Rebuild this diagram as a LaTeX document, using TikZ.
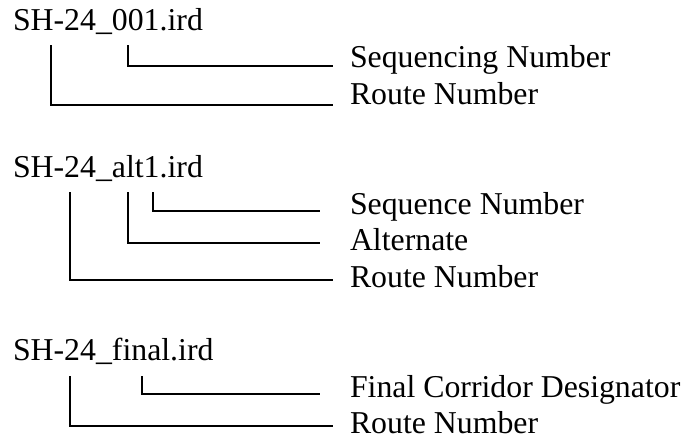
\documentclass[tikz,border=0pt]{standalone}
\usepackage{fontspec}
\setmainfont{Liberation Serif}
\begin{document}
\begin{tikzpicture}[x=0.75pt,y=-0.75pt,
  txt/.style={anchor=base west,inner sep=0pt,outer sep=0pt,font=\fontsize{23.85}{28}\selectfont},
  lead/.style={line width=1.3pt,line cap=butt,line join=miter}]
\useasboundingbox (0,0) rectangle (685,439);
% Block 1
\node[txt] (f1) at (13,31) {SH-24\_001.ird};
\node[txt] (f1s) at (350,67.6) {Sequencing Number};
\node[txt] (f1r) at (350,104.2) {Route Number};
\coordinate (f1a) at (51,45);
\coordinate (f1b) at (128,45);
\coordinate (f1se) at (333,66);
\coordinate (f1re) at (333,105);
\draw[lead] (f1b) |- (f1se);
\draw[lead] (f1a) |- (f1re);
% Block 2
\node[txt] (f2) at (13,177.6) {SH-24\_alt1.ird};
\node[txt] (f2s) at (350,214.2) {Sequence Number};
\node[txt] (f2a) at (350,250.8) {Alternate};
\node[txt] (f2r) at (350,287.4) {Route Number};
\coordinate (f2t1) at (70,192);
\coordinate (f2t2) at (128,192);
\coordinate (f2t3) at (153,192);
\coordinate (f2se) at (320,211);
\coordinate (f2ae) at (320,243);
\coordinate (f2re) at (333,280);
\draw[lead] (f2t3) |- (f2se);
\draw[lead] (f2t2) |- (f2ae);
\draw[lead] (f2t1) |- (f2re);
% Block 3
\node[txt] (f3) at (13,360.6) {SH-24\_final.ird};
\node[txt] (f3f) at (350,397.2) {Final Corridor Designator};
\node[txt] (f3r) at (350,433.8) {Route Number};
\coordinate (f3t1) at (70,376);
\coordinate (f3t2) at (142,376);
\coordinate (f3fe) at (320,394);
\coordinate (f3re) at (333,426);
\draw[lead] (f3t2) |- (f3fe);
\draw[lead] (f3t1) |- (f3re);
\end{tikzpicture}
\end{document}
